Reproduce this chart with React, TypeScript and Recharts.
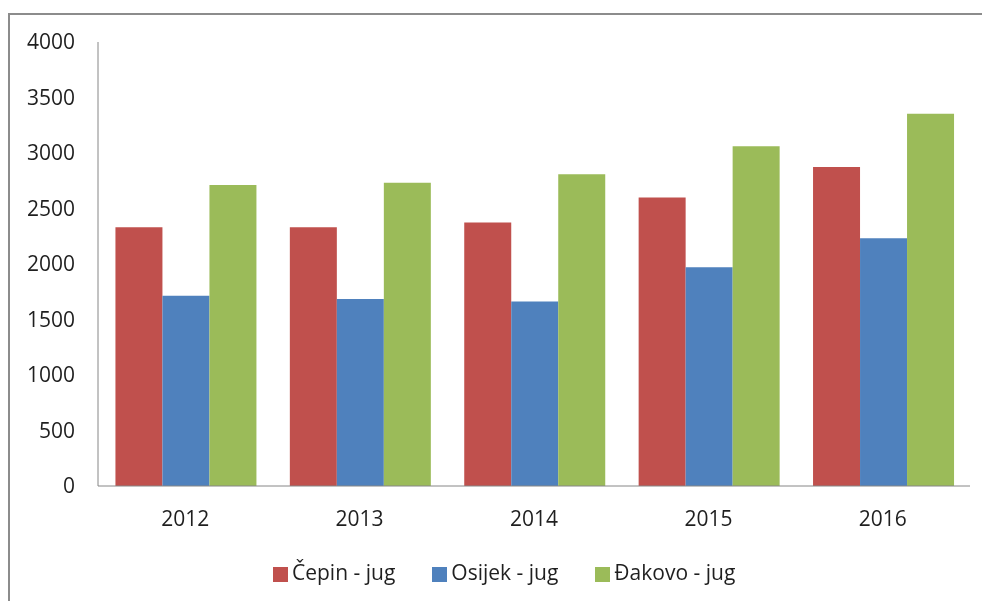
import { BarChart, Bar, XAxis, YAxis, Legend } from "recharts";

const years = ["2012", "2013", "2014", "2015", "2016"];
const cepin = [2330, 2330, 2375, 2600, 2874];
const osijek = [1714, 1685, 1662, 1970, 2231];
const djakovo = [2712, 2733, 2808, 3060, 3354];
const yTicks = [0, 500, 1000, 1500, 2000, 2500, 3000, 3500, 4000];
const seriesOrder = ["cepin", "osijek", "djakovo"];

const data = years.map((year, i) => ({
  year,
  cepin: cepin[i],
  osijek: osijek[i],
  djakovo: djakovo[i],
}));

const font = "'Open Sans', sans-serif";
const textColor = "#1f1f1f";
const axisColor = "#868686";
const frameColor = "#8c8c8c";

export default function App() {
  return (
    <div style={{ position: "relative", width: 966, height: 580, fontFamily: font }}>
      <style>{"html, body { overflow: hidden; }"}</style>
      {/* chart frame: only the top and left edges are in view */}
      <div style={{ position: "fixed", left: 8, right: 0, top: 13, height: 2, background: frameColor }} />
      <div style={{ position: "fixed", left: 8, top: 13, bottom: 0, width: 2, background: frameColor }} />
      <BarChart
        width={966}
        height={580}
        data={data}
        margin={{ top: 34, right: 4, bottom: 0, left: 0 }}
        barCategoryGap="10%"
        barGap={0}
      >
        <XAxis
          dataKey="year"
          stroke={axisColor}
          tickLine={false}
          tickSize={0}
          tickMargin={25}
          height={72}
          tick={{ fill: textColor, fontSize: 21, fontFamily: font }}
        />
        <YAxis
          domain={[0, 4000]}
          ticks={yTicks}
          stroke={axisColor}
          tickLine={false}
          tickSize={0}
          tickMargin={23}
          width={90}
          tick={{ fill: textColor, fontSize: 21, fontFamily: font }}
        />
        <Legend
          verticalAlign="bottom"
          align="left"
          iconType="square"
          iconSize={15}
          itemSorter={(item: any) => seriesOrder.indexOf(item.dataKey)}
          wrapperStyle={{ height: 30, left: 265, fontSize: 21, fontFamily: font }}
          formatter={(value) => (
            <span style={{ color: textColor, marginRight: 27 }}>{value}</span>
          )}
        />
        <Bar dataKey="cepin" name="Čepin - jug" fill="#C0504D" isAnimationActive={false} />
        <Bar dataKey="osijek" name="Osijek - jug" fill="#4F81BD" isAnimationActive={false} />
        <Bar dataKey="djakovo" name="Đakovo - jug" fill="#9BBB59" isAnimationActive={false} />
      </BarChart>
    </div>
  );
}
